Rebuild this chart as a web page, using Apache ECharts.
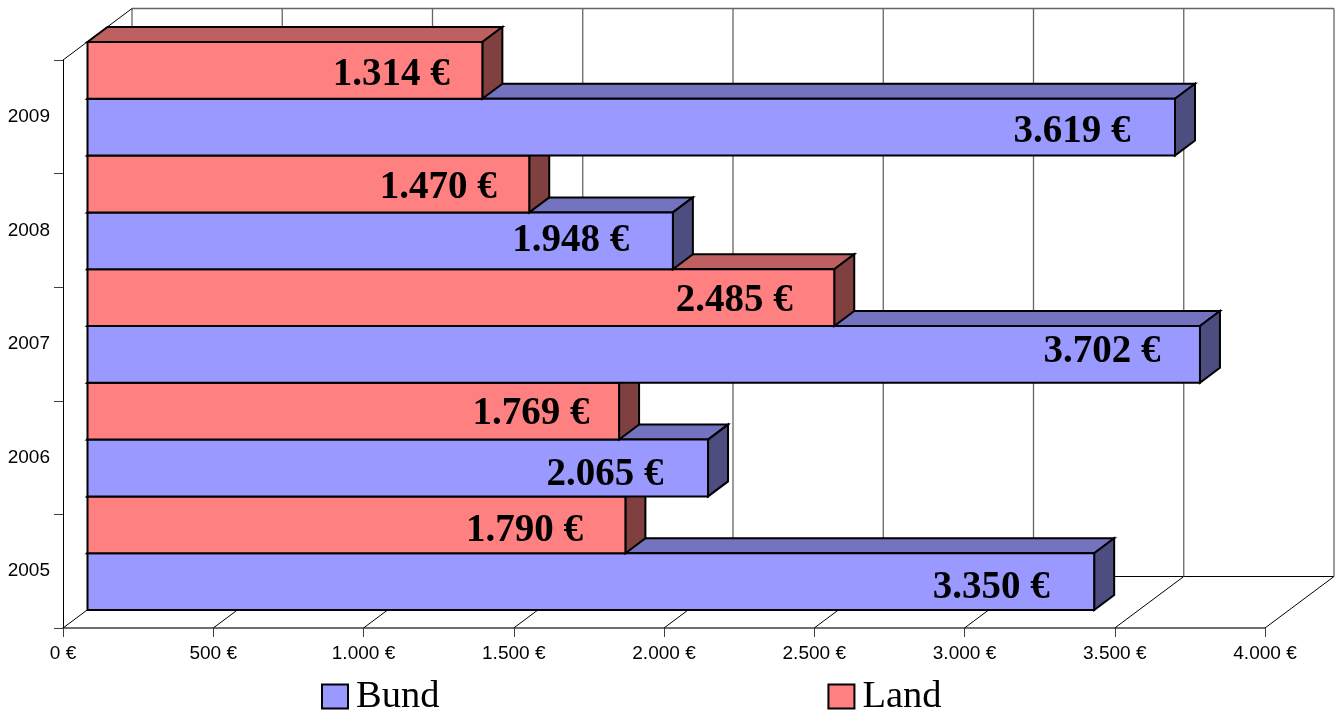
<!DOCTYPE html>
<html>
<head>
<meta charset="utf-8">
<style>html,body{margin:0;padding:0;background:#fff}#c{width:1335px;height:715px}</style>
<script src="https://cdn.jsdelivr.net/npm/echarts@6/dist/echarts.min.js"></script>
</head>
<body>
<div id="c"></div>
<script>
const years = ['2005', '2006', '2007', '2008', '2009'];
const bund = [3350, 2065, 3702, 1948, 3619];
const land = [1790, 1769, 2485, 1470, 1314];
const xTicks = [0, 500, 1000, 1500, 2000, 2500, 3000, 3500, 4000];

// small per-label nudges relative to the end of each bar: [distance back from bar end, vertical shift]
const bundLabelNudge = [[44, 6], [44, 7], [39, -2], [43, 0], [44, 5]];
const landLabelNudge = [[42, 6], [29, 3], [41, 3], [32, 4], [32, 5]];

const euro = v => String(v).replace(/\B(?=(\d{3})+$)/g, '.') + ' €';

const WALL = [69, -51.5];   // depth of the whole chart box
const FRONT = [24.5, -18];  // front of the bars, from the box front
const DEPTH = [20, -15];    // depth of each bar

function frameItem(params, api) {
  const v = api.value(0);
  const g = params.coordSys;
  const x = api.coord([v, 0])[0];
  const bottom = g.y + g.height, top = g.y;
  const children = [
    { type: 'line', shape: { x1: x, y1: bottom, x2: x + WALL[0], y2: bottom + WALL[1] }, style: { stroke: '#000', lineWidth: 1 } },
    { type: 'line', shape: { x1: x + WALL[0], y1: bottom + WALL[1], x2: x + WALL[0], y2: top + WALL[1] }, style: { stroke: '#666', lineWidth: 1.3 } }
  ];
  if (params.dataIndex === 0) {
    children.push(
      { type: 'line', shape: { x1: x, y1: top, x2: x + WALL[0], y2: top + WALL[1] }, style: { stroke: '#000', lineWidth: 1 } },
      { type: 'line', shape: { x1: x + WALL[0], y1: top + WALL[1], x2: g.x + g.width + WALL[0], y2: top + WALL[1] }, style: { stroke: '#666', lineWidth: 1.3 } },
      { type: 'line', shape: { x1: x + WALL[0], y1: bottom + WALL[1], x2: g.x + g.width + WALL[0], y2: bottom + WALL[1] }, style: { stroke: '#000', lineWidth: 1.2 } }
    );
  }
  return { type: 'group', children };
}

function barRenderer(slot, front, topC, side, nudges) {
  return function (params, api) {
    const cat = api.value(1), v = api.value(0);
    const band = api.size([0, 1])[1];
    const c0 = api.coord([0, cat]);
    const c1 = api.coord([v, cat]);
    const h = band / 2;
    const yTop = c0[1] + FRONT[1] + (slot === 0 ? 0 : -h);
    const yBot = yTop + h;
    const x0 = c0[0] + FRONT[0], x1 = c1[0] + FRONT[0];
    const dx = DEPTH[0], dy = DEPTH[1];
    const z = cat * 20 + slot * 10;
    const stroke = { stroke: '#000', lineWidth: 2, lineJoin: 'miter' };
    const n = nudges[params.dataIndex];
    return {
      type: 'group',
      children: [
        { type: 'polygon', z2: z, shape: { points: [[x0, yTop], [x1, yTop], [x1 + dx, yTop + dy], [x0 + dx, yTop + dy]] }, style: Object.assign({ fill: topC }, stroke) },
        { type: 'polygon', z2: z + 1, shape: { points: [[x1, yTop], [x1 + dx, yTop + dy], [x1 + dx, yBot + dy], [x1, yBot]] }, style: Object.assign({ fill: side }, stroke) },
        { type: 'polygon', z2: z + 2, shape: { points: [[x0, yTop], [x1, yTop], [x1, yBot], [x0, yBot]] }, style: Object.assign({ fill: front }, stroke) },
        { type: 'text', z2: z + 3, style: { text: euro(v), x: x1 - n[0] - 0.5, y: (yTop + yBot) / 2 + n[1], align: 'right', verticalAlign: 'middle', font: 'bold 39px "Liberation Serif"', fill: '#000' } }
      ]
    };
  };
}

const chart = echarts.init(document.getElementById('c'), null, { renderer: 'canvas' });
chart.setOption({
  animation: false,
  backgroundColor: '#fff',
  grid: { left: 63, top: 60, width: 1202, height: 568, containLabel: false },
  xAxis: {
    type: 'value', min: 0, max: 4000, interval: 500,
    splitLine: { show: false },
    axisLine: { show: true, lineStyle: { color: '#404040', width: 1.5 } },
    axisTick: { show: true, length: 9, lineStyle: { color: '#404040', width: 1 } },
    axisLabel: { margin: 16.5, formatter: euro, fontFamily: 'Liberation Sans', fontSize: 19, color: '#000', hideOverlap: false, showMinLabel: true, showMaxLabel: true }
  },
  yAxis: {
    type: 'category', data: years,
    splitLine: { show: false },
    axisLine: { show: true, lineStyle: { color: '#000', width: 1 } },
    axisTick: { show: true, length: 9, alignWithLabel: false, lineStyle: { color: '#404040', width: 1 } },
    axisLabel: { margin: 13, padding: [2, 0, 0, 0], fontFamily: 'Liberation Sans', fontSize: 19, color: '#000' }
  },
  legend: {
    data: ['Bund', 'Land'], left: 321, top: 677, icon: 'rect', itemWidth: 26, itemHeight: 24, itemGap: 388,
    selectedMode: false, padding: 0,
    textStyle: { fontFamily: 'Liberation Serif', fontSize: 38.5, color: '#000', padding: [2, 0, 0, 3] }
  },
  series: [
    { type: 'custom', name: 'Wand', z: 1, silent: true, clip: false, renderItem: frameItem, encode: { x: 0 }, data: xTicks.map(v => [v]) },
    {
      type: 'custom', name: 'Bund', z: 2, silent: true, clip: false,
      itemStyle: { color: '#9999FF', borderColor: '#000', borderWidth: 2 },
      renderItem: barRenderer(0, '#9999FF', '#7373BF', '#4D4D80', bundLabelNudge),
      encode: { x: 0, y: 1 }, data: bund.map((v, i) => [v, i])
    },
    {
      type: 'custom', name: 'Land', z: 2, silent: true, clip: false,
      itemStyle: { color: '#FF8080', borderColor: '#000', borderWidth: 2 },
      renderItem: barRenderer(1, '#FF8080', '#BF6060', '#804040', landLabelNudge),
      encode: { x: 0, y: 1 }, data: land.map((v, i) => [v, i])
    }
  ]
});
</script>
</body>
</html>
